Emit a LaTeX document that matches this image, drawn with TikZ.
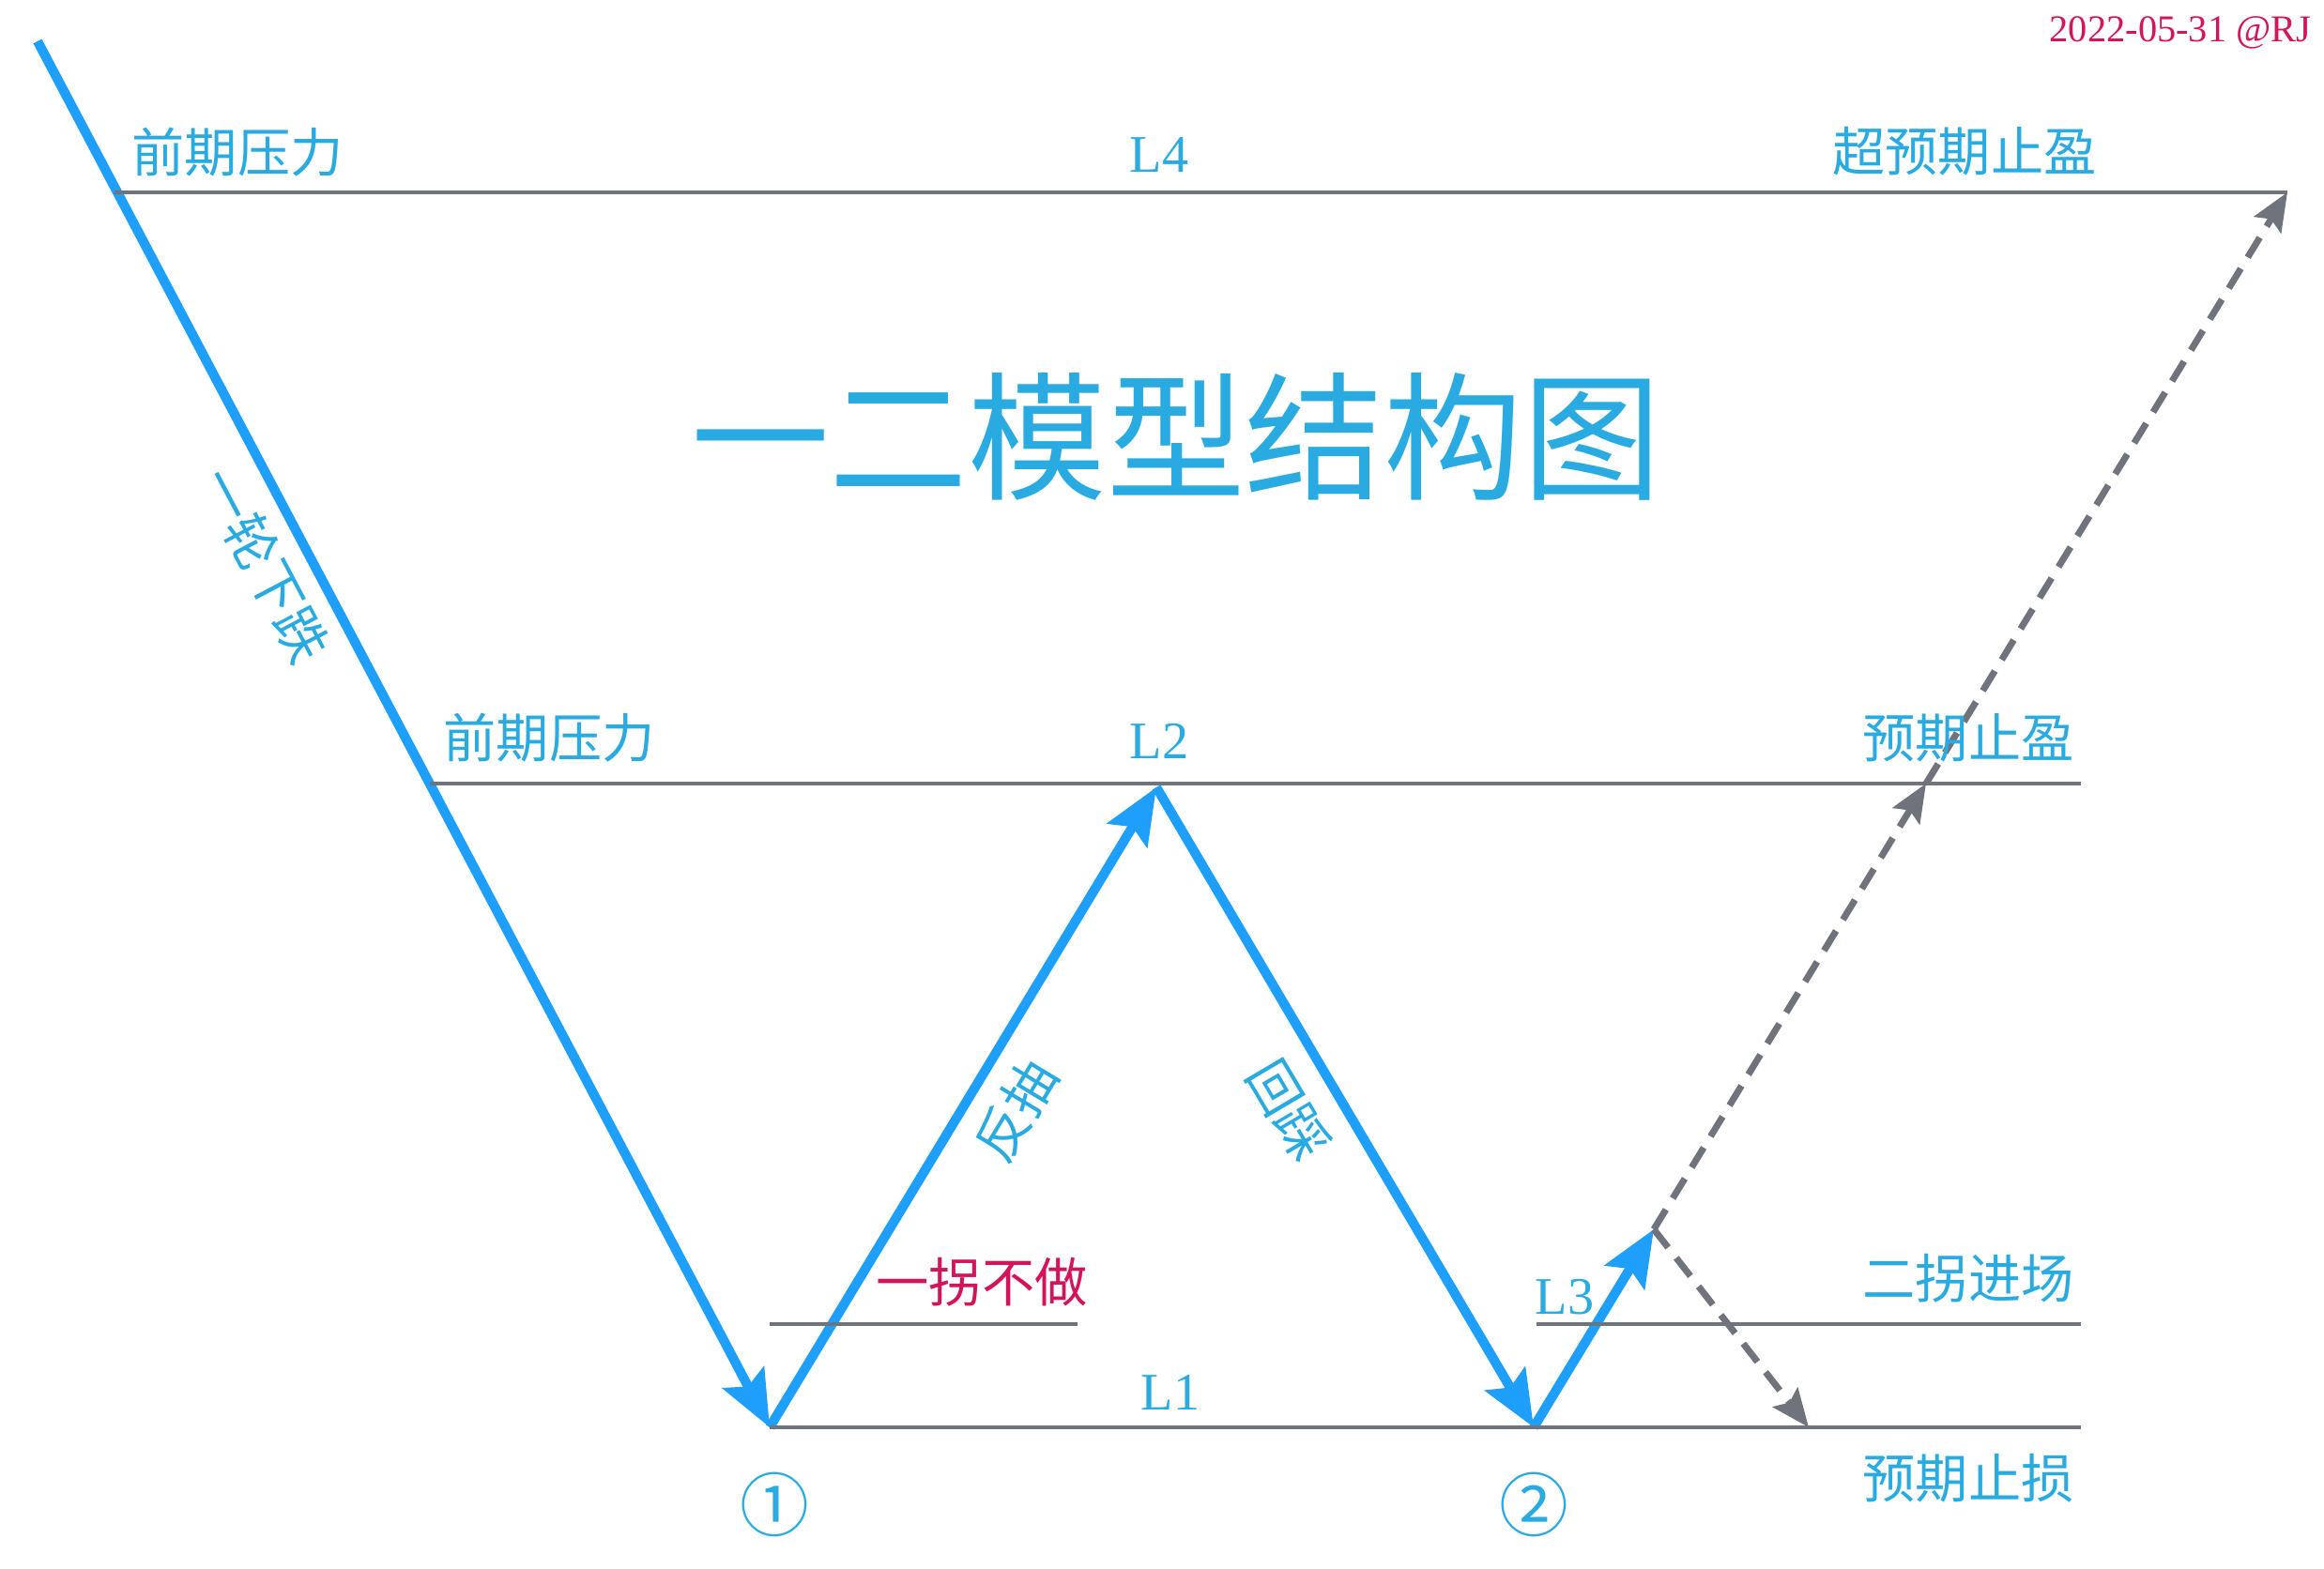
\documentclass[tikz,border=0pt]{standalone}
\usepackage{fontspec}
\setmainfont{Liberation Serif}
\newfontfamily\cjk{Noto Sans CJK SC}
\usetikzlibrary{arrows.meta}
\definecolor{trend}{RGB}{30,159,252}
\definecolor{txtblue}{RGB}{41,171,226}
\definecolor{lvlgray}{RGB}{111,116,124}
\definecolor{warnred}{RGB}{212,20,90}

\begin{document}
\begin{tikzpicture}[
    move/.style={trend, line width=2.9pt, -{Stealth[length=17pt,width=14pt,inset=3pt]}},
    plan/.style={lvlgray, line width=2pt, dash pattern=on 7pt off 4pt, -{Stealth[length=11.5pt,width=9.5pt,inset=2pt]}},
    level/.style={lvlgray, line width=1pt},
    lbl/.style={txtblue, inner sep=0pt, font=\cjk\fontsize{16}{16}\selectfont},
    lvl/.style={txtblue, inner sep=0pt, font=\fontsize{16}{16}\selectfont}
  ]
  \useasboundingbox (0,0) rectangle (24.76,16.72);
  % turning points
  \coordinate (top) at (0.40,16.28);
  \coordinate (one) at (8.20,1.51);
  \coordinate (peak) at (12.32,8.33);
  \coordinate (two) at (16.34,1.51);
  \coordinate (entry) at (17.62,3.62);
  \coordinate (tp) at (20.52,8.37);
  \coordinate (tpx) at (24.37,14.67);
  \coordinate (sl) at (19.27,1.51);
  % price moves
  \draw [move] (top) -- (one);
  \draw [move] (one) -- (peak);
  \draw [move] (peak) -- (two);
  \draw [move] (two) -- (entry);
  % levels
  \coordinate (l4a) at (1.22,14.67);
  \coordinate (l2a) at (4.58,8.37);
  \coordinate (l2b) at (22.17,8.37);
  \coordinate (l3a) at (16.37,2.61);
  \coordinate (l3b) at (22.17,2.61);
  \coordinate (l0a) at (8.20,2.61);
  \coordinate (l0b) at (11.48,2.61);
  \coordinate (l1b) at (22.17,1.51);
  \draw [level] (l4a) -- (tpx);
  \draw [level] (l2a) -- (l2b);
  \draw [level] (l0a) -- (l0b);
  \draw [level] (l3a) -- (l3b);
  \draw [level] (one) -- (l1b);
  % expected paths
  \draw [plan] (entry) -- (tp);
  \draw [plan] (tp) -- (tpx);
  \draw [plan] (entry) -- (sl);
  % labels
  \node (title) [txtblue, font=\cjk\fontsize{42}{42}\selectfont] at (12.53,12.07) {一二模型结构图};
  \node (date) [warnred, anchor=base east, inner sep=0pt, font=\fontsize{11.5}{12}\selectfont] at (24.63,16.27) {2022-05-31 @RJ};
  \node (res1) [lbl, anchor=west] at (1.40,15.10) {前期压力};
  \node (L4) [lvl] at (12.35,15.07) {L4};
  \node (tp2txt) [lbl] at (20.93,15.11) {超预期止盈};
  \node (fall) [lbl, rotate=-62.2] at (2.82,10.70) {一轮下跌};
  \node (res2) [lbl, anchor=west] at (4.72,8.86) {前期压力};
  \node (L2) [lvl] at (12.35,8.82) {L2};
  \node (tptxt) [lbl] at (20.97,8.86) {预期止盈};
  \node (rebound) [lbl, rotate=58.8] at (10.82,4.89) {反抽};
  \node (pullback) [lbl, rotate=-59.4] at (13.73,4.89) {回踩};
  \node (skip) [lbl, warnred] at (10.46,3.06) {一拐不做};
  \node (L1) [lvl] at (12.47,1.88) {L1};
  \node (L3) [lvl] at (16.67,2.90) {L3};
  \node (entrytxt) [lbl] at (20.97,3.10) {二拐进场};
  \node (sltxt) [lbl] at (20.97,0.97) {预期止损};
  \node (n1) [lbl, font=\cjk\fontsize{21}{21}\selectfont] at (8.25,0.69) {①};
  \node (n2) [lbl, font=\cjk\fontsize{21}{21}\selectfont] at (16.34,0.69) {②};
\end{tikzpicture}
\end{document}
